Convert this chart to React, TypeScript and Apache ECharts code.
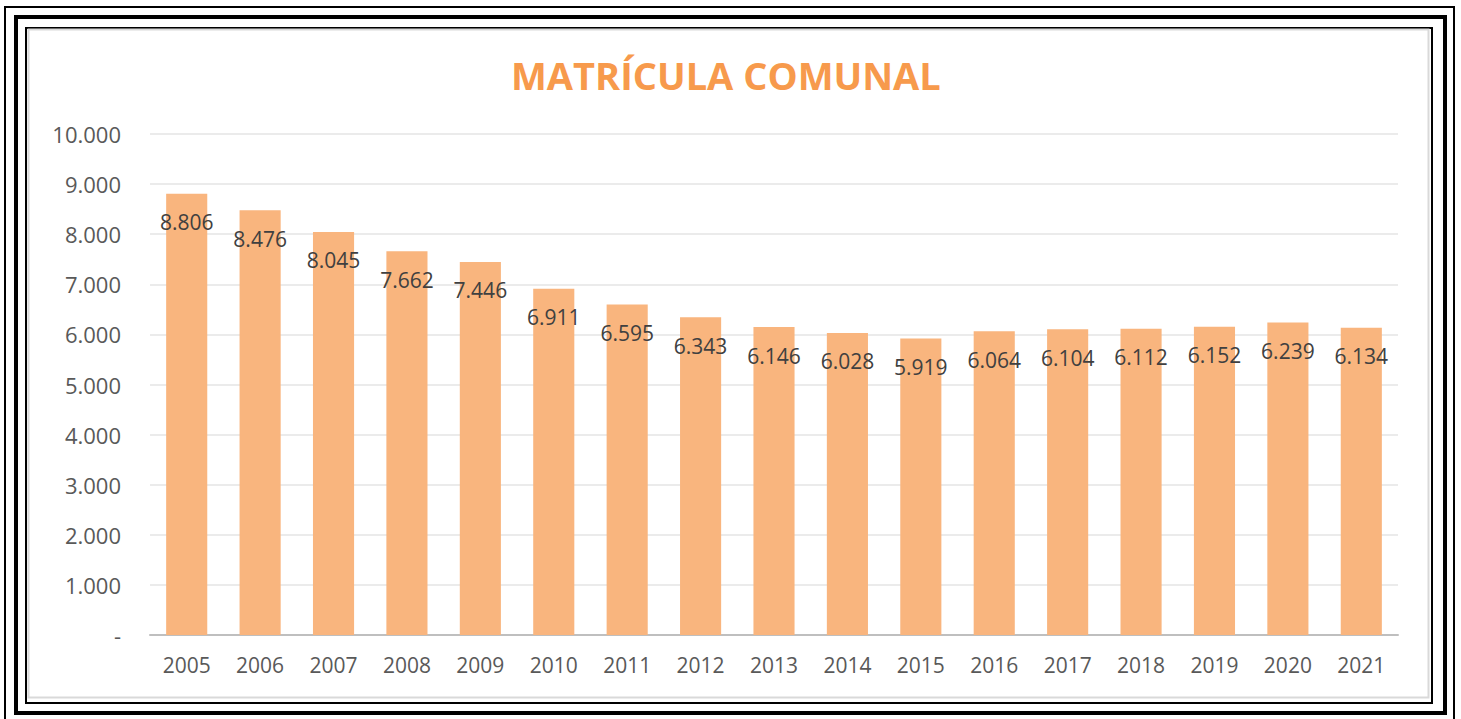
import React, { useEffect, useRef } from "react";
import * as echarts from "echarts";

const years = ["2005","2006","2007","2008","2009","2010","2011","2012","2013","2014","2015","2016","2017","2018","2019","2020","2021"];
const matricula = [8806,8476,8045,7662,7446,6911,6595,6343,6146,6028,5919,6064,6104,6112,6152,6239,6134];
const titleText = "MATRÍCULA COMUNAL";

const fmt = (v: number) => {
  if (v === 0) return "-";
  const s = Math.round(v).toString();
  return s.replace(/\B(?=(\d{3})+(?!\d))/g, ".");
};

export default function App() {
  const ref = useRef<HTMLDivElement>(null);
  useEffect(() => {
    document.body.style.margin = "0";
    const chart = echarts.init(ref.current!, undefined, { renderer: "svg" });
    chart.setOption({
      animation: false,
      backgroundColor: "#ffffff",
      textStyle: { fontFamily: "Open Sans" },
      title: {
        text: titleText,
        left: 511,
        top: 56,
        padding: 0,
        textStyle: { fontFamily: "Open Sans", fontWeight: "bold", fontSize: 38, color: "#F79A4C" },
      },
      grid: { left: 150, right: 63, top: 134, bottom: 84 },
      xAxis: {
        type: "category",
        data: years,
        axisTick: { show: false },
        axisLine: { lineStyle: { color: "#BFBFBF", width: 2 } },
        axisLabel: { color: "#595959", fontSize: 21, margin: 19, fontFamily: "Open Sans" },
      },
      yAxis: {
        type: "value",
        min: 0,
        max: 10000,
        interval: 1000,
        axisLine: { show: false },
        axisTick: { show: false },
        splitLine: { lineStyle: { color: "#EBEBEB", width: 2 } },
        axisLabel: { color: "#595959", fontSize: 22, margin: 29, formatter: fmt, fontFamily: "Open Sans" },
      },
      series: [
        {
          type: "bar",
          data: matricula,
          barCategoryGap: "44%",
          itemStyle: { color: "#F9B57E" },
          label: {
            show: true,
            position: "insideTop",
            distance: 18,
            color: "#404040",
            fontSize: 21,
            fontFamily: "Open Sans",
            formatter: (p: any) => fmt(p.value),
          },
        },
      ],
      graphic: [
        { type: "rect", shape: { x: 5, y: 7, width: 1449, height: 730 }, style: { fill: "none", stroke: "#000", lineWidth: 2 }, silent: true },
        { type: "rect", shape: { x: 16, y: 17, width: 1429, height: 696 }, style: { fill: "none", stroke: "#000", lineWidth: 4 }, silent: true },
        { type: "rect", shape: { x: 26, y: 28, width: 1406, height: 675 }, style: { fill: "none", stroke: "#000", lineWidth: 2 }, silent: true },
        { type: "rect", shape: { x: 28.5, y: 29.5, width: 1400, height: 668 }, style: { fill: "none", stroke: "#D9D9D9", lineWidth: 2 }, silent: true },
      ],
    });
    return () => chart.dispose();
  }, []);
  return <div ref={ref} style={{ width: 1461, height: 719 }} />;
}
